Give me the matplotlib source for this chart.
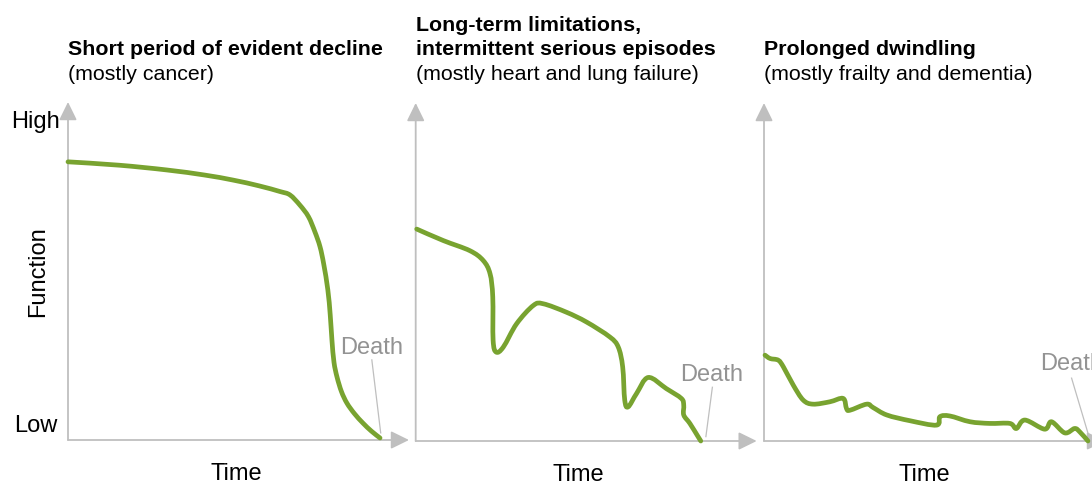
import matplotlib.pyplot as plt
from matplotlib.path import Path
from matplotlib.patches import PathPatch

plt.rcParams['font.family'] = ['Liberation Sans', 'DejaVu Sans']

# Panel texts
titles = [["Short period of evident decline"],
          ["Long-term limitations,", "intermittent serious episodes"],
          ["Prolonged dwindling"]]
subtitles = ["(mostly cancer)",
             "(mostly heart and lung failure)",
             "(mostly frailty and dementia)"]

# Trajectories (time 0-100, function 0-100)
cancer_t = [0, 15, 28.9, 40, 48.4, 56, 62.2, 65.1, 68.0, 70.5, 72.4, 73.9, 75.0,
            76.2, 76.9, 77.4, 78.0, 78.9, 80.2, 81.8, 84.0, 86.5, 89.0, 91.5]
cancer_f = [82.3, 81.3, 79.9, 78.4, 76.9, 75.2, 73.5, 72.5, 69.5, 66.1, 61.6, 57.2, 52.0,
            44.4, 37.0, 29.6, 23.0, 18.6, 14.3, 10.9, 7.8, 5.0, 2.6, 0.6]

organ_t = [0.3, 8.1, 15.9, 19.8, 21.8, 22.6, 22.7, 23.6, 25.7, 29.6, 34.5, 37.4, 44.2,
           50.1, 56.9, 59.4, 60.7, 61.3, 62.3, 64.8, 68.2, 73.5, 77.9, 78.6, 78.6,
           80.4, 82.8, 83.6]
organ_f = [62.7, 59.3, 56.3, 53.4, 49.5, 42.6, 29.8, 26.3, 27.8, 34.7, 40.1, 40.6, 38.1,
           35.2, 30.8, 27.8, 21.9, 12.1, 10.1, 14.1, 18.8, 15.5, 12.6, 10.6, 7.7,
           5.2, 1.3, 0.0]

frail_t = [0.3, 1.8, 4.2, 5.7, 8.6, 11.5, 14.4, 19.3, 23.2, 24.2, 25.2, 30.1, 32.0,
           36.0, 42.8, 50.6, 51.6, 54.5, 60.4, 66.2, 72.1, 74.0, 76.5, 82.3, 84.3,
           88.2, 91.1, 92.6, 95.0]
frail_f = [25.4, 24.4, 23.9, 21.9, 16.5, 12.1, 10.9, 11.6, 12.6, 9.6, 9.1, 10.9, 9.9,
           7.7, 6.0, 4.7, 7.2, 7.4, 5.7, 5.2, 5.2, 3.7, 6.2, 3.5, 5.7,
           2.4, 3.7, 2.7, 0.0]

curves = [(cancer_t, cancer_f), (organ_t, organ_f), (frail_t, frail_f)]

# Death label text anchor and leader line (time, function)
death_text = [(79.8, 25.4), (77.5, 17.8), (81.1, 21.0)]
death_line = [((89.1, 23.7), (91.7, 2.1)),
              ((87.0, 15.9), (85.1, 1.3)),
              ((90.2, 18.6), (95.6, 0.3))]
time_x = [49.3, 47.8, 46.9]

W, H = 1092, 483
green = '#78A330'
grey = '#BFBFBF'


def smooth_path(xs, ys):
    # Catmull-Rom through the read points, drawn as cubic Bezier segments
    pts = list(zip(xs, ys))
    verts = [pts[0]]
    codes = [Path.MOVETO]
    n = len(pts)
    for k in range(n - 1):
        p0 = pts[max(k - 1, 0)]
        p1 = pts[k]
        p2 = pts[k + 1]
        p3 = pts[min(k + 2, n - 1)]
        c1 = (p1[0] + (p2[0] - p0[0]) / 6, p1[1] + (p2[1] - p0[1]) / 6)
        c2 = (p2[0] - (p3[0] - p1[0]) / 6, p2[1] - (p3[1] - p1[1]) / 6)
        verts += [c1, c2, p2]
        codes += [Path.CURVE4] * 3
    return Path(verts, codes)


fig = plt.figure(figsize=(W / 100, H / 100), dpi=100)

lefts = [68, 415.7, 764]
bases = [440, 441, 441]

for i in range(3):
    ax = fig.add_axes([lefts[i] / W, (H - bases[i]) / H, 341 / W, 338 / H])
    ax.set_xlim(0, 100)
    ax.set_ylim(0, 100)
    ax.axis('off')

    # axes with arrow heads
    arrow = dict(arrowstyle='-|>,head_length=0.55,head_width=0.27', mutation_scale=20,
                 color=grey, lw=1.3, shrinkA=0, shrinkB=0)
    ax.annotate('', xy=(100, 0), xytext=(0, 0), arrowprops=arrow, annotation_clip=False)
    ax.annotate('', xy=(0, 100), xytext=(0, 0), arrowprops=arrow, annotation_clip=False)

    t, f = curves[i]
    ax.add_patch(PathPatch(smooth_path(t, f), fill=False, edgecolor=green, lw=3.4,
                           joinstyle='round', capstyle='round', clip_on=False, zorder=3))

    (x0, y0), (x1, y1) = death_line[i]
    ax.plot([x0, x1], [y0, y1], color=grey, lw=0.9, clip_on=False)
    ax.text(death_text[i][0], death_text[i][1], 'Death', color='#939393',
            fontsize=17, ha='left', va='baseline')

    ax.text(time_x[i], -11.8, 'Time', fontsize=17, ha='center', va='baseline')

    # titles
    for j, line in enumerate(titles[i]):
        y = 55 - 24 * (len(titles[i]) - 1 - j)
        fig.text((lefts[i] + 0.5) / W, 1 - y / H, line, fontsize=15.4,
                 fontweight='bold', ha='left', va='baseline')
    fig.text((lefts[i] + 0.5) / W, 1 - 80 / H, subtitles[i], fontsize=15.4,
             ha='left', va='baseline')

    if i == 0:
        ax.text(-9.4, 92.2, 'High', fontsize=17, ha='center', va='baseline')
        ax.text(-9.4, 2.5, 'Low', fontsize=17, ha='center', va='baseline')
        ax.text(-8.8, 49.8, 'Function', fontsize=17, rotation=90,
                ha='center', va='center')

fig.savefig('out.png', dpi=100)
